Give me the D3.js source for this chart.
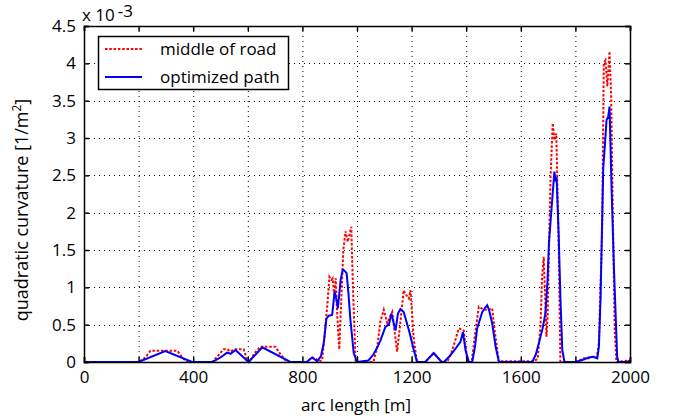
<!DOCTYPE html>
<html><head><meta charset="utf-8">
<script src="https://cdn.jsdelivr.net/npm/d3@7"></script>
<style>
body{margin:0;background:#fff;}
text{font-family:"Open Sans", sans-serif;}
</style></head>
<body><svg id="chart" width="675" height="418"></svg>
<script>
// arc length [m] and quadratic curvature [x 10^-3 1/m^2]
const roadS = [0,200,225,243,342,360,378,470,490,511,525,537,550,585,600,605,625,646,701,720,744,815,836,850,860,872,880,891,899,906,911,916,922,928,935,942,950,958,966,972,979,986,995,1060,1074,1086,1098,1111,1120,1129,1138,1147,1158,1171,1180,1190,1196,1208,1220,1250,1281,1310,1330,1345,1355,1373,1383,1391,1398,1404,1420,1430,1446,1455,1465,1480,1495,1505,1520,1530,1650,1662,1672,1678,1684,1689,1694,1698,1703,1709,1717,1723,1730,1739,1745,1800,1820,1831,1850,1865,1878,1886,1898,1904,1910,1917,1925,1931,1938,1944,1950,1970,2000];
const roadK = [0,0,0.06,0.15,0.15,0.06,0,0,0.08,0.17,0.17,0.14,0.17,0.17,0,0,0.12,0.205,0.205,0.1,0,0,0.06,0.04,0.01,0.02,0.3,0.75,1.14,1.1,1.12,0.9,1.12,0.6,0.17,0.8,1.5,1.75,1.61,1.7,1.81,0.9,0,0,0.2,0.55,0.7,0.52,0.6,0.67,0.4,0.14,0.5,0.96,0.9,0.85,0.96,0.3,0,0,0.12,0,0,0.12,0.23,0.45,0.44,0.42,0.2,0,0,0.3,0.74,0.72,0.7,0.7,0.72,0.4,0,0.01,0.01,0.05,0.47,1.14,1.41,0.9,0.34,0.6,1.46,2.48,3.2,2.97,3.06,1.5,0,0,0.03,0.05,0.05,0.07,0.06,0.25,1.77,4.0,4.04,3.69,4.16,3.55,1.77,0.43,0,0.01,0.02];
const pathS = [0,200,298,396,470,500,524,537,555,603,653,756,815,836,854,868,878,888,897,909,918,924,930,940,948,955,962,968,976,988,1000,1042,1060,1075,1086,1104,1117,1126,1141,1150,1159,1171,1190,1208,1220,1250,1281,1310,1318,1340,1361,1379,1388,1398,1410,1422,1432,1440,1459,1470,1477,1485,1495,1508,1520,1642,1655,1666,1680,1690,1698,1703,1715,1723,1727,1731,1739,1745,1752,1760,1800,1820,1849,1865,1880,1886,1892,1902,1908,1914,1920,1925,1932,1941,1953,1958,1990,2000];
const pathK = [0,0,0.147,0,0,0.06,0.125,0.11,0.16,0,0.197,0,0,0.06,0.01,0.08,0.25,0.58,0.62,0.63,0.94,0.85,0.72,1.1,1.24,1.22,1.19,0.95,0.56,0.12,0,0.02,0.1,0.2,0.29,0.47,0.5,0.65,0.42,0.65,0.71,0.67,0.43,0.16,0,0,0.12,0,0,0.08,0.18,0.27,0.4,0.15,0,0,0.2,0.45,0.67,0.73,0.76,0.68,0.52,0.2,0,0,0.1,0.25,0.45,0.65,1.1,1.59,2.17,2.55,2.45,2.48,1.68,0.87,0.16,0,0,0.02,0.06,0.07,0.05,0.2,0.83,2.6,2.9,3.24,3.28,3.42,2.39,1.28,0.07,0,0,0.02];
const xTicks = [0,200,400,600,800,1000,1200,1400,1600,1800,2000];
const xLabels = [0,400,800,1200,1600,2000];
const yTicks = [0,0.5,1,1.5,2,2.5,3,3.5,4,4.5];
const seriesNames = ["middle of road","optimized path"];
const seriesColors = ["#ff0000","#0000ff"];

const svg = d3.select("#chart");
const L=84,R=630,T=26,B=362;
const x = d3.scaleLinear().domain([0,2000]).range([L,R]);
const y = d3.scaleLinear().domain([0,4.5]).range([B,T]);

// grid
const g = svg.append("g");
g.selectAll(".vg").data(xTicks.slice(1,-1)).join("line")
 .attr("x1",d=>x(d)+0.5).attr("x2",d=>x(d)+0.5).attr("y1",T).attr("y2",B)
 .attr("stroke","#000").attr("stroke-width",1).attr("stroke-dasharray","1,4");
g.selectAll(".hg").data(yTicks.slice(1,-1)).join("line")
 .attr("y1",d=>Math.round(y(d))+0.5).attr("y2",d=>Math.round(y(d))+0.5).attr("x1",L).attr("x2",R)
 .attr("stroke","#000").attr("stroke-width",1).attr("stroke-dasharray","1,4");

// lines
const line = d3.line().x(d=>x(d[0])).y(d=>y(d[1]));
svg.append("path").datum(roadS.map((s,i)=>[s,roadK[i]])).attr("d",line)
 .attr("fill","none").attr("stroke",seriesColors[0]).attr("stroke-width",2).attr("stroke-dasharray","2.5,1.8");
svg.append("path").datum(pathS.map((s,i)=>[s,pathK[i]])).attr("d",line)
 .attr("fill","none").attr("stroke",seriesColors[1]).attr("stroke-width",2);

// axes
const fs = "17px";
const ax = svg.append("g").attr("transform",`translate(0,${B})`)
 .call(d3.axisBottom(x).tickValues(xTicks).tickSize(-5).tickPadding(9).tickFormat(d=>xLabels.includes(d)?d:""));
const axTop = svg.append("g").attr("transform",`translate(0,${T})`)
 .call(d3.axisTop(x).tickValues(xTicks).tickSize(-5).tickFormat(""));
const ay = svg.append("g").attr("transform",`translate(${L},0)`)
 .call(d3.axisLeft(y).tickValues(yTicks).tickSize(-5).tickPadding(8).tickFormat(d=>d));
const ayR = svg.append("g").attr("transform",`translate(${R},0)`)
 .call(d3.axisRight(y).tickValues(yTicks).tickSize(-5).tickFormat(""));
[ax,axTop,ay,ayR].forEach(a=>{
  a.selectAll("path").attr("stroke","#000").attr("stroke-width",1.5);
  a.selectAll("line").attr("stroke","#000").attr("stroke-width",1.5);
  a.selectAll("text").attr("fill","#000").style("font-size",fs).style("font-family","'Open Sans', sans-serif");
});

// axis labels
svg.append("text").attr("x",(L+R)/2 - 1).attr("y",411).attr("text-anchor","middle")
 .style("font-size",fs).text("arc length [m]");
const yl = svg.append("text").attr("transform",`translate(28,${(T+B)/2 + 16}) rotate(-90)`)
 .attr("text-anchor","middle").style("font-size","18px");
yl.append("tspan").text("quadratic curvature [1/m");
yl.append("tspan").attr("dy",-7).style("font-size","12px").text("2");
yl.append("tspan").attr("dy",7).text("]");
const ex = svg.append("text").attr("x",82).attr("y",21).style("font-size",fs);
ex.append("tspan").text("x 10");
ex.append("tspan").attr("dx",3).attr("dy",-4).text("-3");

// legend
const lg = svg.append("g");
lg.append("rect").attr("x",98.5).attr("y",36.5).attr("width",190).attr("height",53)
 .attr("fill","#fff").attr("stroke","#000").attr("stroke-width",1.5);
seriesNames.forEach((n,i)=>{
  const yy = 49 + i*28;
  lg.append("line").attr("x1",105).attr("x2",142).attr("y1",yy).attr("y2",yy)
   .attr("stroke",seriesColors[i]).attr("stroke-width",2).attr("stroke-dasharray",i==0?"2.5,1.8":null);
  lg.append("text").attr("x",160).attr("y",yy+6).style("font-size",fs).text(n);
});
</script></body></html>
